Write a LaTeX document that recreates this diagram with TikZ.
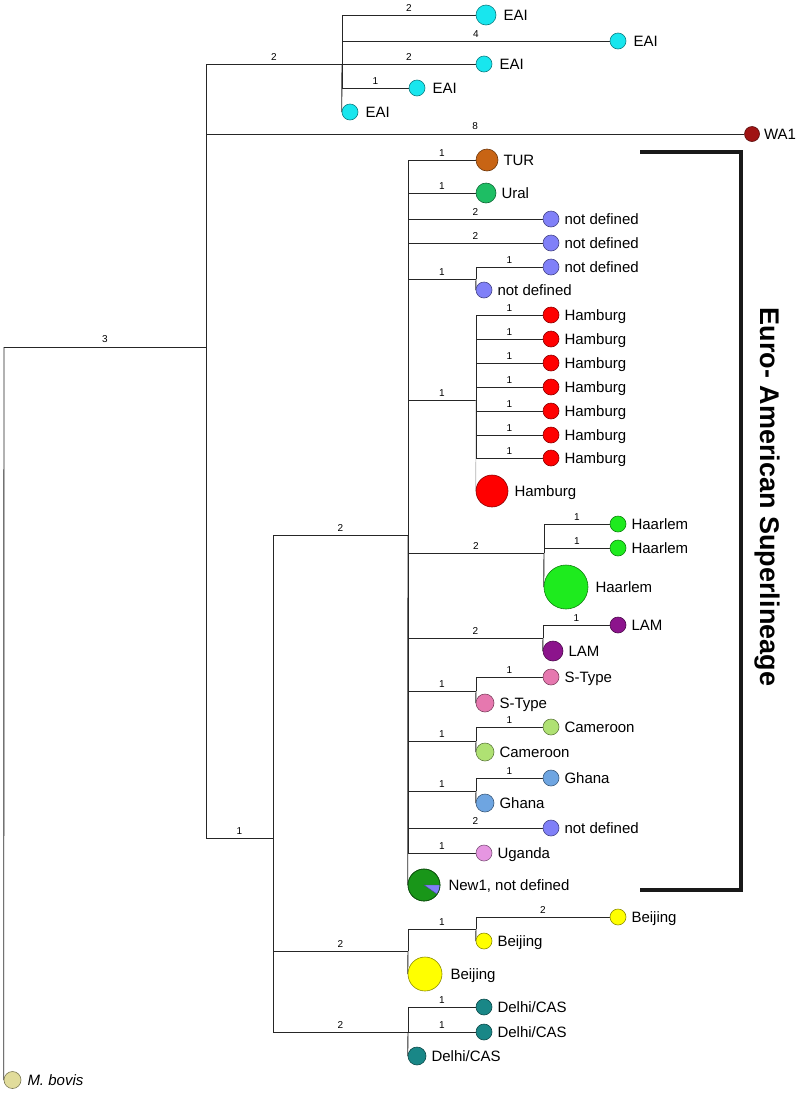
\documentclass[tikz,border=0pt]{standalone}
\usepackage{fontspec}
\setmainfont{Liberation Sans}
\usetikzlibrary{backgrounds}
\definecolor{cEAI}{RGB}{24,230,238}
\definecolor{cWA}{RGB}{160,20,20}
\definecolor{cTUR}{RGB}{200,100,20}
\definecolor{cUral}{RGB}{30,190,100}
\definecolor{cND}{RGB}{128,128,248}
\definecolor{cHam}{RGB}{255,0,0}
\definecolor{cHaa}{RGB}{30,235,30}
\definecolor{cLAM}{RGB}{140,20,140}
\definecolor{cST}{RGB}{230,120,175}
\definecolor{cCam}{RGB}{175,225,115}
\definecolor{cGha}{RGB}{110,165,225}
\definecolor{cUga}{RGB}{230,150,225}
\definecolor{cNew}{RGB}{25,150,25}
\definecolor{cBei}{RGB}{255,255,0}
\definecolor{cDel}{RGB}{25,135,135}
\definecolor{cBov}{RGB}{225,220,155}
\newcommand{\Leaf}[7]{%
  \node[leafdot=#5, minimum size=#4pt] (#1) at (#2,#3) {};
  \node[leaftxt, anchor=base west] (#1t) at ([xshift=#6pt,yshift=-5.4pt]#1.east) {#7};}
\begin{document}
\begin{tikzpicture}[x=1pt,y=-1pt,
  leafdot/.style={circle,inner sep=0pt,fill=#1,draw=#1!55!black,line width=0.6pt},
  leaftxt/.style={inner sep=0pt,font=\fontsize{15}{18}\selectfont},
  num/.style={inner sep=0pt,font=\fontsize{10}{12}\selectfont,above=3.5pt},
  branch/.style={draw=black!85,line width=0.9pt},
  faint/.style={draw=black!30,line width=0.6pt},
  bracketline/.style={draw=black!90,line width=4pt}]
\useasboundingbox (0,0) rectangle (798,1093);

% ---- leaves ----
\Leaf{eai1}{486}{15}{20}{cEAI}{7}{EAI}
\Leaf{eai2}{618}{41}{16}{cEAI}{7}{EAI}
\Leaf{eai3}{484}{64}{16}{cEAI}{7}{EAI}
\Leaf{eai4}{417}{88}{16}{cEAI}{7}{EAI}
\Leaf{eai5}{350}{112}{16}{cEAI}{7}{EAI}
\Leaf{wa1}{752}{134}{15}{cWA}{4}{WA1}
\Leaf{tur}{487}{160}{22}{cTUR}{5}{TUR}
\Leaf{ural}{486}{193}{20}{cUral}{5}{Ural}
\Leaf{nd1}{551}{219}{16}{cND}{5}{not defined}
\Leaf{nd2}{551}{243}{16}{cND}{5}{not defined}
\Leaf{nd3}{551}{267}{16}{cND}{5}{not defined}
\Leaf{nd4}{484}{290}{16}{cND}{5}{not defined}
\Leaf{hb1}{551}{315}{16}{cHam}{5}{Hamburg}
\Leaf{hb2}{551}{339}{16}{cHam}{5}{Hamburg}
\Leaf{hb3}{551}{363}{16}{cHam}{5}{Hamburg}
\Leaf{hb4}{551}{387}{16}{cHam}{5}{Hamburg}
\Leaf{hb5}{551}{411}{16}{cHam}{5}{Hamburg}
\Leaf{hb6}{551}{435}{16}{cHam}{5}{Hamburg}
\Leaf{hb7}{551}{458}{16}{cHam}{5}{Hamburg}
\Leaf{hbig}{492}{491}{32}{cHam}{6}{Hamburg}
\Leaf{haa1}{618}{524}{16}{cHaa}{5}{Haarlem}
\Leaf{haa2}{618}{548}{16}{cHaa}{5}{Haarlem}
\Leaf{haab}{566}{587}{44}{cHaa}{7}{Haarlem}
\Leaf{lam1}{618}{625}{16}{cLAM}{5}{LAM}
\Leaf{lam2}{553}{651}{20}{cLAM}{5}{LAM}
\Leaf{st1}{551}{677}{16}{cST}{5}{S-Type}
\Leaf{st2}{485}{703}{18}{cST}{5}{S-Type}
\Leaf{cam1}{551}{727}{16}{cCam}{5}{Cameroon}
\Leaf{cam2}{485}{752}{18}{cCam}{5}{Cameroon}
\Leaf{gha1}{551}{778}{16}{cGha}{5}{Ghana}
\Leaf{gha2}{485}{803}{18}{cGha}{5}{Ghana}
\Leaf{nd5}{551}{828}{16}{cND}{5}{not defined}
\Leaf{uga}{484}{853}{16}{cUga}{5}{Uganda}
\Leaf{new1}{424}{885}{32}{cNew}{8}{New1, not defined}
\begin{scope}[shift={(424,885)},x=1pt,y=1pt]
  \fill[cND,draw=cND!55!black,line width=0.4pt] (0,0) -- (0:16) arc (0:-35:16) -- cycle;
  \draw[cNew!55!black,line width=0.6pt] (0,0) circle (16);
\end{scope}
\Leaf{bei1}{618}{917}{16}{cBei}{5}{Beijing}
\Leaf{bei2}{484}{941}{16}{cBei}{5}{Beijing}
\Leaf{beib}{425}{974}{34}{cBei}{8}{Beijing}
\Leaf{del1}{484}{1007}{16}{cDel}{5}{Delhi/CAS}
\Leaf{del2}{484}{1032}{16}{cDel}{5}{Delhi/CAS}
\Leaf{del3}{417}{1056}{18}{cDel}{5}{Delhi/CAS}
\Leaf{bov}{12.5}{1080}{17}{cBov}{6}{\textit{M. bovis}}

% ---- internal nodes ----
\coordinate (r0) at (4,347);
\coordinate (nA) at (206,347);
\coordinate (nB) at (342,64);
\coordinate (nC) at (273,838);
\coordinate (nD) at (408,535);
\coordinate (nG) at (476,279);
\coordinate (nH) at (476,400);
\coordinate (nI) at (544,553);
\coordinate (nJ) at (543,638);
\coordinate (nK) at (476,691);
\coordinate (nL) at (476,741);
\coordinate (nM) at (476,791);
\coordinate (nE) at (408,951);
\coordinate (nN) at (476,929);
\coordinate (nF) at (408,1032);

% ---- branches ----
\begin{scope}[on background layer]
\draw[branch] (r0) -- (nA) node[num,midway]{3};
\draw[branch] (r0) -- (bov.west);
\draw[branch] (nA) |- (nB) node[num,pos=0.75]{2};
\draw[branch] (nA) |- (wa1.west) node[num,pos=0.75]{8};
\draw[branch] (nA) |- (nC) node[num,pos=0.75]{1};
\draw[branch] (nB) |- (eai1.west) node[num,pos=0.75]{2};
\draw[branch] (nB) |- (eai2.west) node[num,pos=0.75]{4};
\draw[branch] (nB) -- (eai3.west) node[num,midway]{2};
\draw[branch] (nB) |- (eai4.west) node[num,pos=0.75]{1};
\draw[branch] (nB) -- (eai5.west);
\draw[branch] (nC) |- (nD) node[num,pos=0.75]{2};
\draw[branch] (nC) |- (nE) node[num,pos=0.75]{2};
\draw[branch] (nC) |- (nF) node[num,pos=0.75]{2};
% Euro-American
\draw[branch] (nD) |- (tur.west) node[num,pos=0.75]{1};
\draw[branch] (nD) |- (ural.west) node[num,pos=0.75]{1};
\draw[branch] (nD) |- (nd1.west) node[num,pos=0.75]{2};
\draw[branch] (nD) |- (nd2.west) node[num,pos=0.75]{2};
\draw[branch] (nD) |- (nG) node[num,pos=0.75]{1};
\draw[branch] (nD) |- (nH) node[num,pos=0.75]{1};
\draw[branch] (nD) |- (nI) node[num,pos=0.75]{2};
\draw[branch] (nD) |- (nJ) node[num,pos=0.75]{2};
\draw[branch] (nD) |- (nK) node[num,pos=0.75]{1};
\draw[branch] (nD) |- (nL) node[num,pos=0.75]{1};
\draw[branch] (nD) |- (nM) node[num,pos=0.75]{1};
\draw[branch] (nD) |- (nd5.west) node[num,pos=0.75]{2};
\draw[branch] (nD) |- (uga.west) node[num,pos=0.75]{1};
\draw[branch] (nD) -- (new1.west);
\draw[branch] (nG) |- (nd3.west) node[num,pos=0.75]{1};
\draw[branch] (nG) -- (nd4.west);
\draw[faint] (nH) -- (hbig.west);
\foreach \h in {hb1,hb2,hb3,hb4,hb5,hb6,hb7}
  \draw[branch] (nH) |- (\h.west) node[num,pos=0.75]{1};
\draw[branch] (nI) |- (haa1.west) node[num,pos=0.75]{1};
\draw[branch] (nI) |- (haa2.west) node[num,pos=0.75]{1};
\draw[branch] (nI) -- (haab.west);
\draw[branch] (nJ) |- (lam1.west) node[num,pos=0.75]{1};
\draw[branch] (nJ) -- (lam2.west);
\draw[branch] (nK) |- (st1.west) node[num,pos=0.75]{1};
\draw[branch] (nK) -- (st2.west);
\draw[branch] (nL) |- (cam1.west) node[num,pos=0.75]{1};
\draw[branch] (nL) -- (cam2.west);
\draw[branch] (nM) |- (gha1.west) node[num,pos=0.75]{1};
\draw[branch] (nM) -- (gha2.west);
% Beijing
\draw[branch] (nE) |- (nN) node[num,pos=0.75]{1};
\draw[branch] (nE) -- (beib.west);
\draw[branch] (nN) |- (bei1.west) node[num,pos=0.75]{2};
\draw[branch] (nN) -- (bei2.west);
% Delhi/CAS
\draw[branch] (nF) |- (del1.west) node[num,pos=0.75]{1};
\draw[branch] (nF) -- (del2.west) node[num,midway]{1};
\draw[branch] (nF) -- (del3.west);
\end{scope}

% ---- bracket and title ----
\coordinate (bktop) at (640,152);
\coordinate (bkcorner) at (741,890);
\coordinate (bkend) at (640,890);
\draw[bracketline] (bktop) -| (bkcorner) -- (bkend);
\node[font=\bfseries\fontsize{27}{30}\selectfont, rotate=-90, inner sep=0pt] (title) at (767,497) {Euro- American Superlineage};
\end{tikzpicture}
\end{document}
